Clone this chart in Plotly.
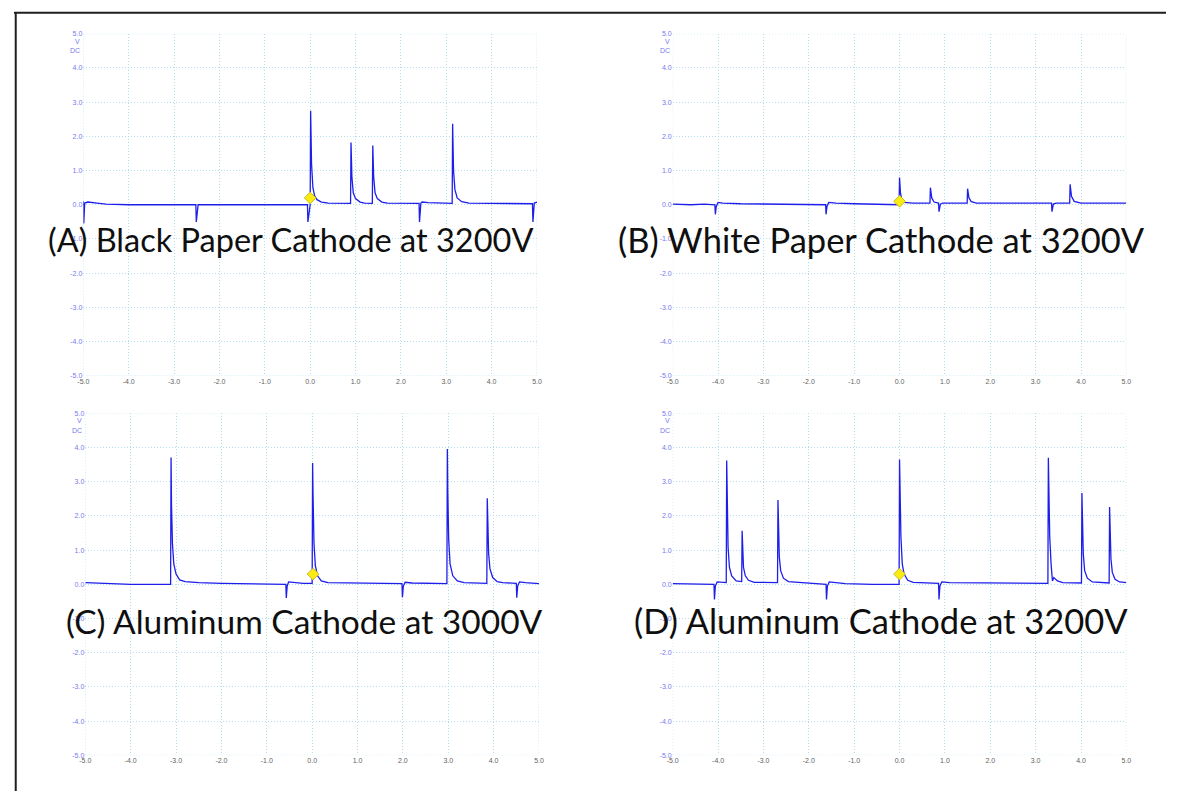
import plotly.graph_objects as go

# page is 1179x802; browser body margin of 8px is compensated
OFF = 8
W, H = 1179 - 2 * OFF, 802 - 2 * OFF

# ---------------- data (ms, V) ----------------
a_t = [-5.0, -4.99, -4.97, -4.9, -4.7, -4.5, -4.0, -3.3, -2.52, -2.51, -2.49, -2.47, -2.0, -1.0,
       -0.06, -0.05, -0.02, 0.0, 0.01, 0.03, 0.06, 0.1, 0.15, 0.25, 0.4, 0.89, 0.9, 0.92, 0.95,
       1.0, 1.1, 1.2, 1.37, 1.38, 1.40, 1.43, 1.48, 1.58, 1.7, 2.0, 2.40, 2.41, 2.44, 2.47, 2.6,
       3.13, 3.14, 3.16, 3.19, 3.24, 3.34, 3.5, 4.2, 4.90, 4.91, 4.94, 5.0]
a_v = [0.1, -0.55, 0.05, 0.08, 0.05, 0.02, 0.0, 0.0, 0.0, -0.5, -0.1, 0.0, 0.0, 0.0,
       0.0, -0.5, -0.1, 0.0, 2.75, 1.2, 0.5, 0.25, 0.15, 0.08, 0.05, 0.04, 1.82, 0.8, 0.35,
       0.18, 0.08, 0.05, 0.04, 1.73, 0.8, 0.35, 0.18, 0.08, 0.05, 0.04, 0.04, -0.5, 0.05, 0.08, 0.06,
       0.04, 2.37, 1.0, 0.45, 0.2, 0.09, 0.05, 0.04, 0.03, -0.5, 0.05, 0.08]

b_t = [-5.0, -4.6, -4.3, -4.07, -4.06, -4.04, -4.0, -3.9, -3.5, -3.0, -2.5, -2.0, -1.63, -1.62,
       -1.60, -1.56, -1.4, -1.0, -0.5, -0.01, 0.0, 0.02, 0.05, 0.1, 0.3, 0.67, 0.68, 0.71, 0.76,
       0.86, 0.87, 0.9, 0.95, 1.49, 1.5, 1.53, 1.58, 1.7, 3.35, 3.36, 3.39, 3.45, 3.75, 3.76,
       3.79, 3.85, 4.0, 5.0]
b_v = [0.02, 0.0, 0.02, 0.0, -0.28, -0.05, 0.07, 0.05, 0.03, 0.02, 0.03, 0.02, 0.0, -0.28,
       -0.05, 0.07, 0.05, 0.03, 0.02, 0.0, 0.8, 0.35, 0.15, 0.07, 0.05, 0.05, 0.5, 0.2, 0.08,
       0.05, -0.2, 0.02, 0.05, 0.05, 0.47, 0.2, 0.09, 0.05, 0.05, -0.2, 0.02, 0.05, 0.05, 0.6,
       0.25, 0.1, 0.05, 0.05]

c_t = [-5.0, -4.5, -4.0, -3.12, -3.11, -3.10, -3.08, -3.05, -3.0, -2.92, -2.8, -2.5, -2.0, -1.5,
       -0.58, -0.57, -0.55, -0.52, -0.4, -0.2, 0.0, 0.01, 0.02, 0.04, 0.07, 0.12, 0.2, 0.35, 1.0,
       1.98, 1.99, 2.01, 2.05, 2.2, 2.97, 2.98, 2.99, 3.01, 3.04, 3.1, 3.2, 3.35, 3.85, 3.86, 3.87,
       3.89, 3.92, 3.98, 4.08, 4.2, 4.50, 4.51, 4.53, 4.57, 4.7, 5.0]
c_v = [0.05, 0.02, 0.0, 0.0, 3.71, 2.3, 1.2, 0.6, 0.3, 0.13, 0.08, 0.05, 0.03, 0.02,
       0.0, -0.4, -0.05, 0.07, 0.05, 0.03, 0.03, 3.55, 2.6, 1.2, 0.55, 0.25, 0.1, 0.05, 0.03,
       0.02, -0.38, -0.05, 0.06, 0.04, 0.02, 3.96, 2.7, 1.3, 0.6, 0.25, 0.1, 0.05, 0.03, 2.52, 1.8,
       0.9, 0.45, 0.2, 0.08, 0.05, 0.03, -0.39, -0.05, 0.07, 0.05, 0.02]

d_t = [-5.0, -4.3, -4.09, -4.08, -4.06, -4.02, -3.9, -3.82, -3.81, -3.80, -3.78, -3.75, -3.70,
       -3.6, -3.48, -3.47, -3.46, -3.44, -3.40, -3.33, -3.2, -2.69, -2.68, -2.67, -2.65, -2.62,
       -2.56, -2.45, -2.2, -1.9, -1.62, -1.61, -1.59, -1.55, -1.4, -1.2, -0.6, -0.01, 0.0, 0.01,
       0.03, 0.06, 0.1, 0.18, 0.3, 0.86, 0.87, 0.89, 0.93, 1.1, 3.27, 3.28, 3.29, 3.31, 3.34,
       3.37, 3.40, 3.48, 3.6, 4.01, 4.02, 4.03, 4.05, 4.08, 4.14, 4.25, 4.62, 4.63, 4.64, 4.66,
       4.69, 4.75, 4.85, 5.0]
d_v = [0.02, 0.0, 0.0, -0.44, -0.05, 0.07, 0.05, 0.05, 3.62, 2.2, 1.1, 0.5, 0.25,
       0.1, 0.08, 1.57, 1.0, 0.5, 0.25, 0.12, 0.06, 0.05, 2.47, 1.6, 0.8, 0.4,
       0.18, 0.08, 0.05, 0.03, 0.0, -0.44, -0.05, 0.07, 0.05, 0.02, 0.0, 0.0, 3.65, 2.9,
       1.4, 0.6, 0.3, 0.12, 0.06, 0.03, -0.44, -0.05, 0.07, 0.05, 0.03, 3.7, 2.8, 1.4, 0.6,
       0.1, 0.2, 0.1, 0.05, 0.04, 2.67, 1.8, 0.9, 0.4, 0.18, 0.07, 0.04, 2.26, 1.5, 0.75,
       0.35, 0.15, 0.07, 0.05]

trig_t = [0.0, 0.0, 0.02, 0.0]
trig_v = [0.2, 0.1, 0.3, 0.3]

captions = ["(A) Black Paper Cathode at 3200V", "(B) White Paper Cathode at 3200V",
            "(C) Aluminum Cathode at 3000V", "(D) Aluminum Cathode at 3200V"]

y_ticks = [-5, -4, -3, -2, -1, 0, 1, 2, 3, 4, 5]
y_tick_text = ["%.1f" % v for v in y_ticks]
x_ticks = [-5, -4, -3, -2, -1, 0, 1, 2, 3, 4, 5]
x_tick_text = ["%.1f" % v for v in x_ticks]

series = [(a_t, a_v), (b_t, b_v), (c_t, c_v), (d_t, d_v)]

# ---------------- layout geometry (page pixels) ----------------
px_dom = [(78, 536, 30, 375), (673, 1131, 30, 375), (80, 538, 413, 758), (673, 1131, 413, 758)]
cap_px = [(287, 238), (884, 238), (301, 622), (883, 622)]
cap_size = [32.5, 34.5, 33.5, 34.5]

LINE = "rgb(30,30,235)"
GRID = "rgb(180,222,236)"
YLAB = "rgb(120,120,240)"
XLAB = "rgb(95,95,95)"


def fx(p):
    return (p - OFF) / W


def fy(p):
    return 1 - (p - OFF) / H


fig = go.Figure()
layout = dict(width=W, height=H, margin=dict(l=0, r=0, t=0, b=0),
              paper_bgcolor="white", plot_bgcolor="white", showlegend=False)
shapes = []
annotations = []

for i, ((t, v), (x0, x1, yt, yb)) in enumerate(zip(series, px_dom)):
    n = "" if i == 0 else str(i + 1)
    xa, ya = "x" + n, "y" + n
    fig.add_trace(go.Scatter(x=t, y=v, mode="lines", xaxis=xa, yaxis=ya,
                             line=dict(color=LINE, width=1.3), hoverinfo="skip"))
    fig.add_trace(go.Scatter(x=[trig_t[i]], y=[trig_v[i]], mode="markers", xaxis=xa, yaxis=ya,
                             marker=dict(symbol="diamond", size=9, color="rgb(250,235,20)",
                                         line=dict(color="rgb(200,190,40)", width=1)),
                             hoverinfo="skip"))
    layout["xaxis" + n] = dict(domain=[fx(x0), fx(x1)], range=[-5, 5], anchor=ya,
                               tickvals=x_ticks, ticktext=x_tick_text, showgrid=True,
                               gridcolor=GRID, griddash="1px,2px", gridwidth=1, zeroline=False,
                               showline=False, ticks="",
                               tickfont=dict(family="Liberation Sans", size=7, color=XLAB))
    layout["yaxis" + n] = dict(domain=[fy(yb), fy(yt)], range=[-5, 5], anchor=xa,
                               tickvals=y_ticks, ticktext=y_tick_text, showgrid=True,
                               gridcolor=GRID, griddash="1px,2px", gridwidth=1, zeroline=False,
                               showline=False, ticks="",
                               tickfont=dict(family="Liberation Sans", size=7, color=YLAB))
    shapes.append(dict(type="rect", xref=xa, yref=ya, x0=-5, x1=5, y0=-5, y1=5,
                       line=dict(color=GRID, width=1, dash="1px,2px"), layer="below"))
    annotations.append(dict(x=-5, y=4.78, xref=xa, yref=ya, text="V", showarrow=False,
                            xanchor="right", xshift=-1,
                            font=dict(family="Liberation Sans", size=7, color=YLAB)))
    annotations.append(dict(x=-5, y=4.5, xref=xa, yref=ya, text="DC", showarrow=False,
                            xanchor="right", xshift=-1,
                            font=dict(family="Liberation Sans", size=7, color=YLAB)))
    annotations.append(dict(x=-5, y=-5.5, xref=xa, yref=ya, text="ms", showarrow=False,
                            xanchor="left", xshift=-1,
                            font=dict(family="Liberation Sans", size=7, color=XLAB)))
    cx, cy = cap_px[i]
    annotations.append(dict(x=fx(cx), y=fy(cy), xref="paper", yref="paper", text=captions[i],
                            showarrow=False, xanchor="center", yanchor="middle",
                            font=dict(family="Lato", size=cap_size[i], color="rgb(15,15,15)")))

# outer frame (left and top edges)
shapes.append(dict(type="line", xref="paper", yref="paper", x0=0.0015, x1=0.0015,
                   y0=0, y1=1, line=dict(color="rgb(30,30,30)", width=2)))
shapes.append(dict(type="line", xref="paper", yref="paper", x0=0, x1=1,
                   y0=0.999, y1=0.999, line=dict(color="rgb(30,30,30)", width=2)))

layout["shapes"] = shapes
layout["annotations"] = annotations
fig.update_layout(**layout)
fig.write_html("out.html")
